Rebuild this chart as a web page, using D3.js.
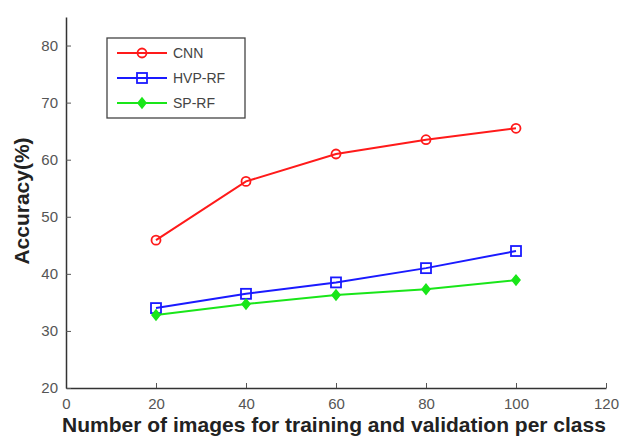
<!DOCTYPE html>
<html>
<head>
<meta charset="utf-8">
<script src="https://cdn.jsdelivr.net/npm/d3@7"></script>
<style>
  body { margin: 0; background: #fff; }
  text { font-family: "Liberation Sans", Arial, sans-serif; }
</style>
</head>
<body>
<div id="chart"></div>
<script>
// values
var xValues = [20, 40, 60, 80, 100]
var cnnValues = [45.9, 56.2, 61.0, 63.5, 65.5]
var hvpValues = [34.0, 36.5, 38.5, 41.0, 44.0]
var spValues = [32.8, 34.7, 36.3, 37.3, 38.9]
var seriesNames = ['CNN', 'HVP-RF', 'SP-RF']
var xTicks = [0, 20, 40, 60, 80, 100, 120]
var yTicks = [20, 30, 40, 50, 60, 70, 80]

var seriesColors = {'CNN': '#ff1a1a', 'HVP-RF': '#1a1aff', 'SP-RF': '#19e619'}
var seriesSymbols = {'CNN': 'circle', 'HVP-RF': 'square', 'SP-RF': 'diamond'}

var series = [
  {name: 'CNN', values: cnnValues},
  {name: 'HVP-RF', values: hvpValues},
  {name: 'SP-RF', values: spValues}
]

// set the dimensions and margins of the graph
var W = 622, H = 440
var margin = {top: 17, right: 16, bottom: 52, left: 66},
    width = W - margin.left - margin.right,
    height = H - margin.top - margin.bottom;

var x = d3.scaleLinear().domain([0, 120]).range([0, width]);
var y = d3.scaleLinear().domain([20, 85]).range([height, 0]);

var svg = d3.select('#chart')
  .append('svg')
  .attr('width', W)
  .attr('height', H)
  .append('g')
  .attr('transform', 'translate(' + margin.left + ',' + margin.top + ')');

// axes, MATLAB style ticks point inward
var xAxis = svg.append('g')
  .attr('transform', 'translate(0,' + height + ')')
  .call(d3.axisBottom(x).tickValues(xTicks).tickSizeInner(-5).tickSizeOuter(0).tickPadding(10))
var yAxis = svg.append('g')
  .call(d3.axisLeft(y).tickValues(yTicks).tickSizeInner(-5).tickSizeOuter(0).tickPadding(8))

svg.selectAll('.domain').attr('stroke', '#333').attr('stroke-width', 1.5)
svg.selectAll('.tick line').attr('stroke', '#555')
svg.selectAll('.tick text')
  .attr('fill', '#555')
  .style('font-size', '15px')
  .style('font-family', '"Liberation Sans Narrow", "Liberation Sans", sans-serif')

// axis titles
svg.append('text')
  .attr('x', width / 2 - 2)
  .attr('y', height + 44)
  .style('text-anchor', 'middle')
  .style('font-size', '21px')
  .style('font-weight', 'bold')
  .attr('fill', '#222')
  .text('Number of images for training and validation per class')

svg.append('text')
  .attr('transform', 'rotate(-90)')
  .attr('x', -184)
  .attr('y', -37)
  .style('text-anchor', 'middle')
  .style('font-size', '21px')
  .style('font-weight', 'bold')
  .attr('fill', '#222')
  .text('Accuracy(%)')

var line = d3.line()
  .x(function(d, i) { return x(xValues[i]); })
  .y(function(d) { return y(d); })

function drawMarker(g, name, cx, cy) {
  var c = seriesColors[name]
  var s = seriesSymbols[name]
  if (s === 'circle') {
    g.append('circle').attr('cx', cx).attr('cy', cy).attr('r', 4.5)
      .attr('fill', 'none').attr('stroke', c).attr('stroke-width', 1.8)
  } else if (s === 'square') {
    g.append('rect').attr('x', cx - 5).attr('y', cy - 5).attr('width', 10).attr('height', 10)
      .attr('fill', 'none').attr('stroke', c).attr('stroke-width', 1.8)
  } else {
    g.append('path')
      .attr('d', 'M' + cx + ',' + (cy - 5) + 'L' + (cx + 4) + ',' + cy + 'L' + cx + ',' + (cy + 5) + 'L' + (cx - 4) + ',' + cy + 'Z')
      .attr('fill', c).attr('stroke', c).attr('stroke-width', 1.5)
  }
}

series.forEach(function(s) {
  var g = svg.append('g')
  g.append('path')
    .datum(s.values)
    .attr('fill', 'none')
    .attr('stroke', seriesColors[s.name])
    .attr('stroke-width', 2)
    .attr('d', line)
  s.values.forEach(function(v, i) {
    drawMarker(g, s.name, x(xValues[i]), y(v))
  })
})

// legend
var legendG = svg.append('g').attr('transform', 'translate(' + (107 - margin.left) + ',' + (38 - margin.top) + ')')
legendG.append('rect')
  .attr('width', 138).attr('height', 80)
  .attr('fill', '#fff').attr('stroke', '#444').attr('stroke-width', 1.3)

seriesNames.forEach(function(name, i) {
  var ly = 15 + i * 25
  legendG.append('line')
    .attr('x1', 10).attr('x2', 60).attr('y1', ly).attr('y2', ly)
    .attr('stroke', seriesColors[name]).attr('stroke-width', 2)
  drawMarker(legendG, name, 35, ly)
  legendG.append('text')
    .attr('x', 66).attr('y', ly).attr('dy', '.35em')
    .style('font-size', '14px')
    .attr('fill', '#444')
    .text(name)
})
</script>
</body>
</html>
